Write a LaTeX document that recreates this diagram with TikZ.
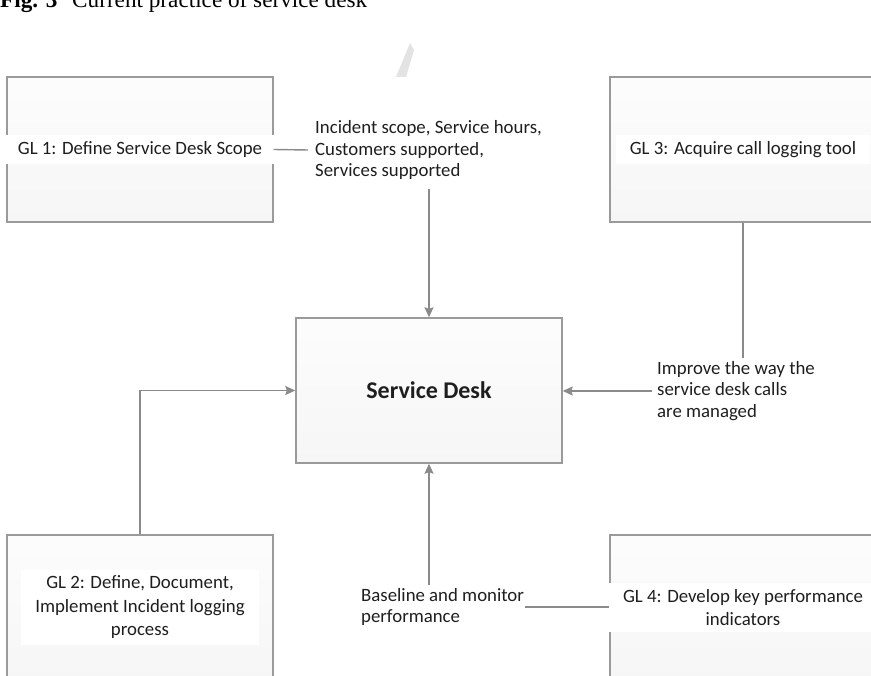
\documentclass[tikz,border=0pt]{standalone}
\usepackage{fontspec}
\setmainfont{Carlito}
\newfontfamily\capfont{Liberation Serif}
\usetikzlibrary{arrows.meta}

\definecolor{linegray}{HTML}{8A8A8A}
\definecolor{boxgray}{HTML}{9A9A9A}
\definecolor{inkgray}{HTML}{1E1E1E}

\tikzset{
  goal/.style={draw=boxgray, line width=1.4pt, minimum width=266pt,
    minimum height=145pt, top color=gray!2, bottom color=gray!7,
    inner sep=0pt},
  goaltext/.style={fill=white, text=inkgray, align=center,
    font=\fontsize{18.8}{23.5}\selectfont, inner xsep=14pt, inner ysep=6pt},
  flowlabel/.style={text=inkgray, align=left,
    font=\fontsize{18.8}{21.8}\selectfont},
  link/.style={draw=linegray, line width=1.4pt},
  feed/.style={link, -{Stealth[length=10pt, width=9pt, inset=1.5pt]}},
  captext/.style={inner sep=0pt, anchor=base west,
    font=\capfont\fontsize{23.2}{26}\selectfont}
}

\begin{document}
\begin{tikzpicture}[x=1pt, y=-1pt]
\useasboundingbox (0,0) rectangle (871,676);

% figure caption, cut at the top edge
\begin{scope}
\clip (0,0) rectangle (871,676);
\node[captext] (capnum) at (0,8) {\bfseries Fig. 3};
\node[captext] (captitle) at (72,8) {Current practice of service desk};
% faint proof watermark stroke
\fill[gray!22] (396,77) -- (406,77) -- (414,50) -- (410,43) -- cycle;
\end{scope}

% goal boxes and the service desk
\node[goal] (gl1) at (140,149.5) {};
\node[goaltext] (gl1t) at (gl1.center) {GL 1: Define Service Desk Scope};

\node[goal] (gl3) at (743,149.5) {};
\node[goaltext] (gl3t) at (gl3.center) {GL 3: Acquire call logging tool};

\node[goal] (gl2) at (140,607.5) {};
\node[goaltext] (gl2t) at (gl2.center) {GL 2: Define, Document,\\Implement Incident logging\\process};

\node[goal] (gl4) at (743,607.5) {};
\node[goaltext] (gl4t) at (gl4.center) {GL 4: Develop key performance\\indicators};

\node[goal] (sd) at (429,390.5) {};
\node[text=inkgray, font=\bfseries\fontsize{24}{28}\selectfont] (sdt) at (sd.center) {Service Desk};

% flow labels
\node[flowlabel, anchor=west, inner xsep=7pt, inner ysep=9pt] (lab1) at (308,150)
  {Incident scope, Service hours,\\Customers supported,\\Services supported};
\node[flowlabel, anchor=west, inner xsep=5pt, inner ysep=3pt] (lab3) at (652,391)
  {Improve the way the\\service desk calls\\are managed};
\node[flowlabel, anchor=west, inner xsep=1pt, inner ysep=3pt] (lab4) at (360,607)
  {Baseline and monitor\\performance};

% connectors
\draw[link] (gl1.east) -- (lab1.west);
\draw[feed] (sd.north |- lab1.south) -- (sd.north);

\draw[link] (gl3.south) -- (gl3.south |- lab3.north);
\draw[feed] (lab3.west) -- (sd.east |- lab3.west);

\draw[feed] (gl2.north) |- (sd.west);

\draw[link] (lab4.east) -- (gl4.west |- lab4.east);
\draw[feed] (sd.south |- lab4.north) -- (sd.south);
\end{tikzpicture}
\end{document}
